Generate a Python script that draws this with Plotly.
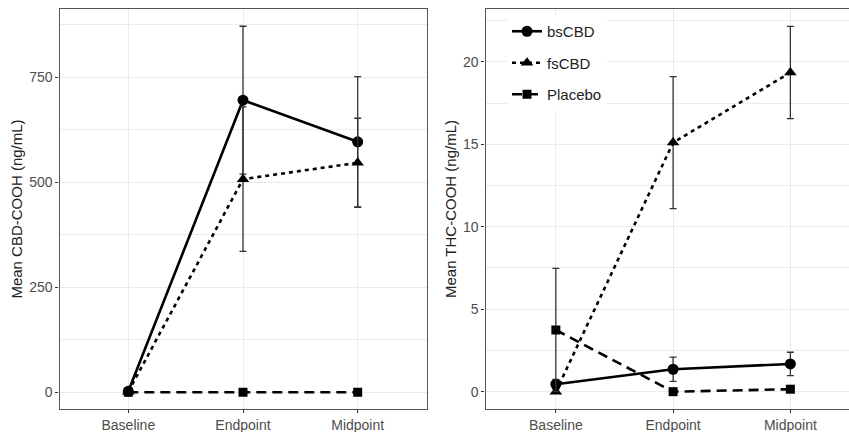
import plotly.graph_objects as go

timepoints = ["Baseline", "Endpoint", "Midpoint"]
groups = ["bsCBD", "fsCBD", "Placebo"]

# Left panel: Mean CBD-COOH (ng/mL)
cbd_mean = {"bsCBD": [2, 695, 596], "fsCBD": [1, 507, 546], "Placebo": [0, 0, 0]}
cbd_err = {"bsCBD": [2, 176, 155], "fsCBD": [1, 172, 106], "Placebo": [0, 0, 0]}

# Right panel: Mean THC-COOH (ng/mL)
thc_mean = {"bsCBD": [0.45, 1.36, 1.68], "fsCBD": [0.0, 15.1, 19.35], "Placebo": [3.74, 0.0, 0.15]}
thc_err = {"bsCBD": [0.3, 0.73, 0.71], "fsCBD": [0.0, 4.0, 2.8], "Placebo": [3.74, 0.0, 0.0]}

styles = {
    "bsCBD": dict(dash="solid", symbol="circle", size=11),
    "fsCBD": dict(dash="4px,4px", symbol="triangle-up", size=11),
    "Placebo": dict(dash="10px,6px", symbol="square", size=9),
}

fig = go.Figure()
for panel, (means, errs) in enumerate([(cbd_mean, cbd_err), (thc_mean, thc_err)]):
    xa = "x" if panel == 0 else "x2"
    ya = "y" if panel == 0 else "y2"
    for g in groups:
        st = styles[g]
        fig.add_trace(go.Scatter(
            x=timepoints, y=means[g], xaxis=xa, yaxis=ya,
            mode="lines+markers", name=g, legendgroup=g,
            showlegend=(panel == 1),
            line=dict(color="black", width=2.6, dash=st["dash"]),
            marker=dict(color="black", symbol=st["symbol"], size=st["size"]),
            error_y=dict(type="data", array=errs[g], visible=True,
                         color="#333333", thickness=1.3, width=3.5),
        ))

grid = "#ebebeb"
frame = "#555555"
fam = "Liberation Sans, Arial, sans-serif"
tickfont = dict(family=fam, size=14, color="#4d4d4d")
titlefont = dict(family=fam, size=15, color="#222222")

common_x = dict(type="category", categoryorder="array", categoryarray=timepoints,
                showgrid=True, gridcolor=grid, gridwidth=1.1, zeroline=False,
                showline=True, linecolor=frame, linewidth=1.2, mirror=True,
                ticks="outside", ticklen=3, tickcolor="#333333", tickfont=tickfont)
common_y = dict(showgrid=True, gridcolor=grid, gridwidth=1.1, zeroline=False,
                showline=True, linecolor=frame, linewidth=1.2,
                ticks="outside", ticklen=3, tickcolor="#333333", tickfont=tickfont,
                title_font=titlefont, title_standoff=2)

fig.update_layout(
    width=849, height=432,
    margin=dict(l=0, r=0, t=9, b=23),
    paper_bgcolor="white", plot_bgcolor="white",
    font=dict(family=fam),
    xaxis=dict(common_x, domain=[59.5 / 849, 426.5 / 849], range=[-0.6, 2.6], anchor="y"),
    yaxis=dict(common_y, anchor="x", range=[-40, 912], mirror=True,
               tickvals=[0, 250, 500, 750],
               minor=dict(showgrid=True, gridcolor=grid, gridwidth=0.6, dtick=125, tick0=0),
               title_text="Mean CBD-COOH (ng/mL)"),
    xaxis2=dict(common_x, domain=[485.5 / 849, 1.0], range=[-0.6, 2.5], anchor="y2"),
    yaxis2=dict(common_y, anchor="x2", range=[-1.05, 23.2], mirror=False,
                tickvals=[0, 5, 10, 15, 20],
                minor=dict(showgrid=True, gridcolor=grid, gridwidth=0.6, dtick=2.5, tick0=0),
                title_text="Mean THC-COOH (ng/mL)"),
    legend=dict(x=507 / 849, xanchor="left", y=0.985, yanchor="top",
                bgcolor="white", font=dict(family=fam, size=15, color="#222222"),
                tracegroupgap=9, itemwidth=30),
)

fig.write_html("out.html")
